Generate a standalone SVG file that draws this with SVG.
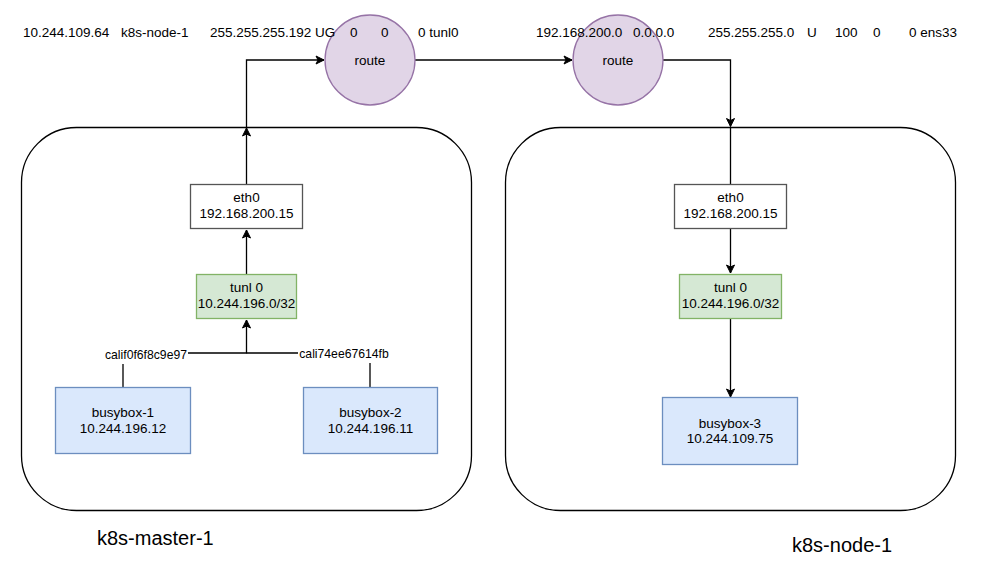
<svg xmlns="http://www.w3.org/2000/svg" width="984" height="567" viewBox="0 0 984 567">
<style>
text{font-family:"Liberation Sans",Arial,sans-serif;fill:#000}
.t12{font-size:13.5px}
.lbl{font-size:12.2px}
.mid{text-anchor:middle}
.big{font-size:20px}
.edge{fill:none;stroke:#000;stroke-width:1.3}
.host{fill:none;stroke:#000;stroke-width:1.3}
.eth{fill:#fff;stroke:#555;stroke-width:1.3}
.tun{fill:#d5e8d4;stroke:#82b366;stroke-width:1.3}
.bb{fill:#dae8fc;stroke:#6c8ebf;stroke-width:1.3}
.rt{fill:#e1d5e7;stroke:#9673a6;stroke-width:1.3}
</style>
<defs>
<marker id="arr" markerUnits="userSpaceOnUse" markerWidth="12" markerHeight="12" viewBox="-10 -6 12 12" refX="0" refY="0" orient="auto">
<path d="M-8,-4 L0,0 L-8,4 L-6,0 Z" fill="#000" stroke="#000" stroke-width="1"/>
</marker>
</defs>
<rect width="984" height="567" fill="#fff"/>

<g id="host-master">
<rect class="host" x="21.5" y="127.5" width="450" height="383" rx="55" ry="55"/>
<text class="big" x="97" y="545">k8s-master-1</text>
</g>
<g id="host-node">
<rect class="host" x="505.5" y="127.5" width="450" height="383" rx="55" ry="55"/>
<text class="big" x="792" y="552">k8s-node-1</text>
</g>

<g id="connectors">
<path class="edge" d="M246.5,274 V230" marker-end="url(#arr)"/>
<path class="edge" d="M123,387 V353 H246.5 V320" marker-end="url(#arr)"/>
<path class="edge" d="M370,387 V353 H246.5"/>
<path class="edge" d="M246.5,184 V128" marker-end="url(#arr)"/>
<path class="edge" d="M246.5,127 V60 H324" marker-end="url(#arr)"/>
<path class="edge" d="M415,60 H572" marker-end="url(#arr)"/>
<path class="edge" d="M663,60 H730.5 V126.5" marker-end="url(#arr)"/>
<path class="edge" d="M730.5,127 V184"/>
<path class="edge" d="M730.5,229 V273" marker-end="url(#arr)"/>
<path class="edge" d="M730.5,319 V397" marker-end="url(#arr)"/>
<rect x="104" y="346" width="84" height="18" fill="#fff"/>
<text class="lbl mid" x="146" y="359">calif0f6f8c9e97</text>
<rect x="298" y="345" width="92" height="18" fill="#fff"/>
<text class="lbl mid" x="344" y="358">cali74ee67614fb</text>
</g>

<g id="route-1">
<circle class="rt" cx="370" cy="60" r="45"/>
<text class="t12 mid" x="370" y="65">route</text>
</g>
<g id="route-2">
<circle class="rt" cx="618" cy="60" r="45"/>
<text class="t12 mid" x="618" y="65">route</text>
</g>

<g id="route-text-1">
<text class="t12" y="37"><tspan x="23">10.244.109.64</tspan><tspan x="121">k8s-node-1</tspan><tspan x="210">255.255.255.192 UG</tspan><tspan x="350">0</tspan><tspan x="381">0</tspan><tspan x="418">0 tunl0</tspan></text>
</g>
<g id="route-text-2">
<text class="t12" y="37"><tspan x="536">192.168.200.0</tspan><tspan x="633">0.0.0.0</tspan><tspan x="708">255.255.255.0</tspan><tspan x="807">U</tspan><tspan x="835">100</tspan><tspan x="873">0</tspan><tspan x="909">0 ens33</tspan></text>
</g>

<g id="eth0-master">
<rect class="eth" x="190.5" y="184.5" width="112" height="44"/>
<text class="t12 mid" x="246.5" y="202">eth0</text>
<text class="t12 mid" x="246.5" y="218">192.168.200.15</text>
</g>
<g id="tunl0-master">
<rect class="tun" x="196.5" y="274.5" width="100" height="44"/>
<text class="t12 mid" x="246.5" y="292">tunl 0</text>
<text class="t12 mid" x="246.5" y="308">10.244.196.0/32</text>
</g>
<g id="busybox-1">
<rect class="bb" x="55.5" y="387.5" width="135" height="66"/>
<text class="t12 mid" x="123" y="417">busybox-1</text>
<text class="t12 mid" x="123" y="433">10.244.196.12</text>
</g>
<g id="busybox-2">
<rect class="bb" x="303.5" y="387.5" width="134" height="66"/>
<text class="t12 mid" x="370.5" y="417">busybox-2</text>
<text class="t12 mid" x="370.5" y="433">10.244.196.11</text>
</g>

<g id="eth0-node">
<rect class="eth" x="674.5" y="184.5" width="112" height="44"/>
<text class="t12 mid" x="730.5" y="202">eth0</text>
<text class="t12 mid" x="730.5" y="218">192.168.200.15</text>
</g>
<g id="tunl0-node">
<rect class="tun" x="679.5" y="274.5" width="102" height="44"/>
<text class="t12 mid" x="730.5" y="292">tunl 0</text>
<text class="t12 mid" x="730.5" y="308">10.244.196.0/32</text>
</g>
<g id="busybox-3">
<rect class="bb" x="662.5" y="397.5" width="135" height="67"/>
<text class="t12 mid" x="730" y="428">busybox-3</text>
<text class="t12 mid" x="730" y="443">10.244.109.75</text>
</g>
</svg>
